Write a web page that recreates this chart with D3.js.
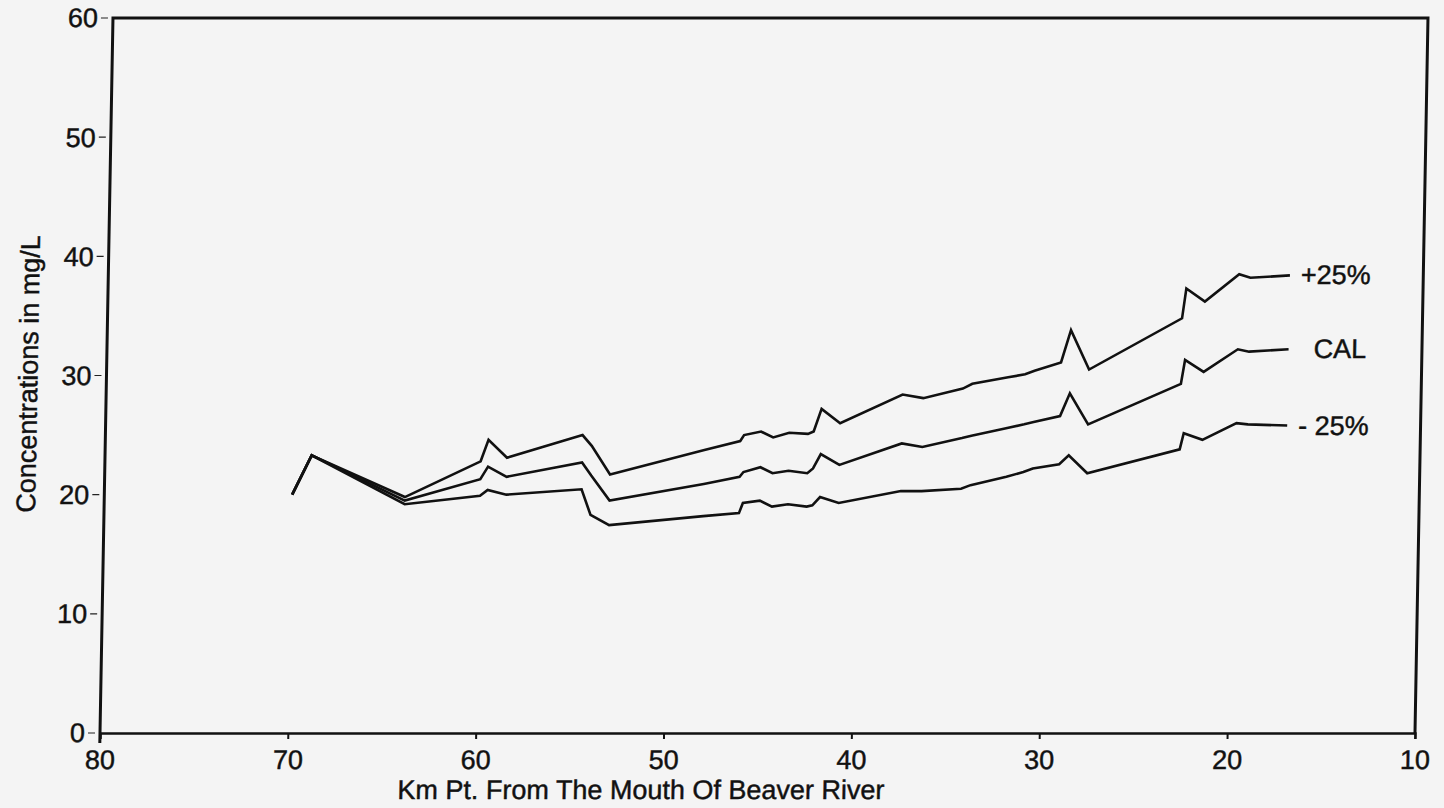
<!DOCTYPE html>
<html>
<head>
<meta charset="utf-8">
<script src="https://cdn.jsdelivr.net/npm/d3@7"></script>
<style>
  body { margin: 0; background: #f4f4f4; }
  svg { display: block; }
  text { font-family: "Liberation Sans", Arial, Helvetica, sans-serif; fill: #111; stroke: #111; stroke-width: 0.45px; }
</style>
</head>
<body>
<svg id="chart" width="1444" height="808"></svg>
<script>
// km points along the river (shared by all three runs)
const kmPoints = [70, 69, 64, 60, 59.6, 58.6, 54.6, 54.1, 53.1, 48.1, 46.2, 46.0, 45.1, 44.45,
  43.6, 42.6, 42.3, 41.9, 40.9, 37.6, 36.5, 34.4, 33.9, 32.0, 31.1, 30.6, 29.2, 28.7, 27.7,
  22.8, 22.6, 21.6, 19.8, 19.2, 17.1];

const plus25 = [20.0, 23.3, 19.8, 22.8, 24.6, 23.1, 25.0, 24.1, 21.7, 23.75, 24.5, 25.0, 25.3, 24.8,
  25.2, 25.1, 25.3, 27.2, 26.0, 28.4, 28.1, 28.9, 29.3, 29.85, 30.1, 30.4, 31.1, 33.8, 30.5,
  34.8, 37.3, 36.2, 38.5, 38.2, 38.4];

const cal = [20.0, 23.3, 19.5, 21.3, 22.35, 21.5, 22.7, 21.6, 19.5, 20.9, 21.5, 21.9, 22.3, 21.8,
  22.0, 21.8, 22.2, 23.4, 22.5, 24.3, 24.0, 24.75, 24.95, 25.6, 25.9, 26.1, 26.6, 28.5, 25.9,
  29.3, 31.3, 30.3, 32.2, 32.0, 32.2];

const minus25 = [20.0, 23.3, 19.2, 19.9, 20.4, 20.0, 20.45, 18.3, 17.45, 18.2, 18.45, 19.3, 19.5, 19.0,
  19.2, 19.0, 19.1, 19.8, 19.3, 20.3, 20.3, 20.5, 20.8, 21.5, 21.9, 22.2, 22.55, 23.3, 21.8,
  23.8, 25.15, 24.6, 26.0, 25.9, 25.8];

const seriesNames = ['+25%', 'CAL', '- 25%'];
const xTicks = [80, 70, 60, 50, 40, 30, 20, 10];
const yTicks = [0, 10, 20, 30, 40, 50, 60];

const svg = d3.select('#chart');

// the scanned figure leans a little to the right at the top
const g = svg.append('g')
  .attr('transform', 'translate(13.3,0) skewX(-1.04)');

const x = d3.scaleLinear().domain([80, 10]).range([100, 1415]);
const y = d3.scaleLinear().domain([0, 60]).range([733, 18]);

// frame: left, top, right
g.append('path')
  .attr('d', `M${x(80)},${y(0) + 10}V${y(60)}H${x(10)}V${y(0)}`)
  .attr('fill', 'none')
  .attr('stroke', '#111')
  .attr('stroke-width', 3);

// x axis
const xAxis = g.append('g')
  .attr('transform', `translate(0,${y(0)})`)
  .call(d3.axisBottom(x).tickValues(xTicks).tickSize(6).tickPadding(11).tickFormat(d3.format('d')));
xAxis.select('.domain').attr('stroke', '#111').attr('stroke-width', 2.4);
xAxis.selectAll('.tick line').attr('stroke', '#111').attr('stroke-width', 2);
xAxis.selectAll('.tick text')
  .style('font-size', '27px')
  .style('font-family', '"Liberation Sans", Arial, sans-serif')
  .attr('fill', '#111');

// y axis (small dashes detached from the frame)
const yAxis = g.append('g').attr('class', 'y-axis');
yAxis.selectAll('line')
  .data(yTicks)
  .enter()
  .append('line')
  .attr('x1', x(80) - 12)
  .attr('x2', x(80) - 5)
  .attr('y1', d => y(d))
  .attr('y2', d => y(d))
  .attr('stroke', '#222')
  .attr('stroke-width', 1.2);
yAxis.selectAll('text')
  .data(yTicks)
  .enter()
  .append('text')
  .attr('x', x(80) - 15)
  .attr('y', d => y(d) + 9.5)
  .attr('text-anchor', 'end')
  .style('font-size', '27px')
  .text(d => d);

// lines
const series = [plus25, cal, minus25];
const line = d3.line()
  .x((d, i) => x(kmPoints[i]))
  .y(d => y(d));

g.selectAll('.run')
  .data(series)
  .enter()
  .append('path')
  .attr('class', 'run')
  .attr('d', line)
  .attr('fill', 'none')
  .attr('stroke', '#111')
  .attr('stroke-width', 2.6)
  .attr('stroke-linejoin', 'miter');

// labels at line ends
const last = kmPoints.length - 1;
g.selectAll('.run-label')
  .data(series)
  .enter()
  .append('text')
  .attr('class', 'run-label')
  .attr('x', (d, i) => x(kmPoints[last]) + (i === 1 ? 25 : 11))
  .attr('y', d => y(d[last]) + 9)
  .style('font-size', '27px')
  .text((d, i) => seriesNames[i]);

// axis titles
g.append('text')
  .attr('x', 642)
  .attr('y', 799)
  .attr('text-anchor', 'middle')
  .style('font-size', '27px')
  .text('Km Pt. From The Mouth Of Beaver River');

g.append('text')
  .attr('transform', 'translate(31,374) rotate(-90)')
  .attr('text-anchor', 'middle')
  .style('font-size', '27px')
  .text('Concentrations in mg/L');
</script>
</body>
</html>
